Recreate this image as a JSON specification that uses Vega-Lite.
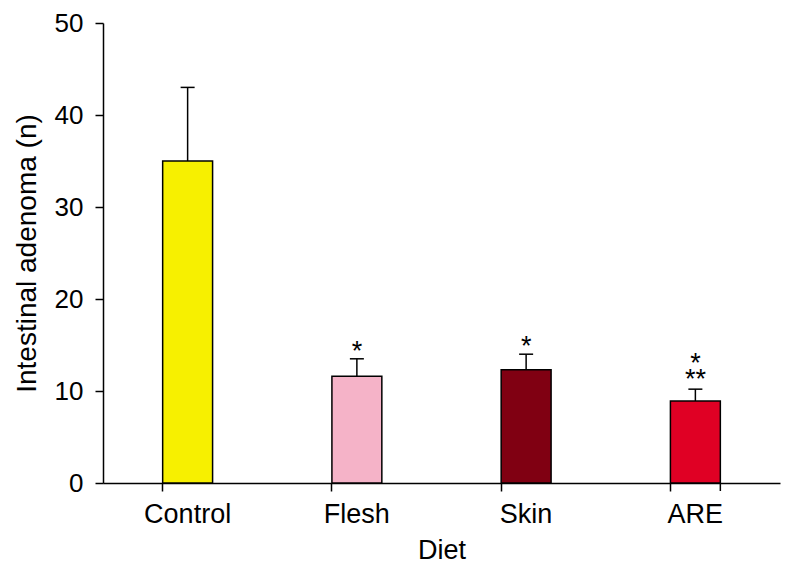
{
  "$schema": "https://vega.github.io/schema/vega-lite/v6.json",
  "autosize": "none",
  "width": 677,
  "height": 460,
  "padding": {"left": 103, "top": 23, "right": 18, "bottom": 97},
  "background": "white",
  "config": {
    "view": {"stroke": null},
    "font": "Liberation Sans",
    "axis": {"domainColor": "black", "tickColor": "black", "labelColor": "black", "titleColor": "black", "domainWidth": 1.5, "tickWidth": 1.5, "tickSize": 8, "grid": false, "labelFont": "Liberation Sans", "titleFont": "Liberation Sans", "titleFontWeight": "normal"}
  },
  "data": {
    "values": [
      {"Diet": "Control", "value": 35.0, "err": 43.0, "sig": "", "sig2": ""},
      {"Diet": "Flesh", "value": 11.6, "err": 13.5, "sig": "*", "sig2": ""},
      {"Diet": "Skin", "value": 12.3, "err": 14.0, "sig": "*", "sig2": ""},
      {"Diet": "ARE", "value": 8.9, "err": 10.2, "sig": "*", "sig2": "**"}
    ]
  },
  "encoding": {
    "x": {
      "field": "Diet", "type": "nominal", "sort": ["Control", "Flesh", "Skin", "ARE"],
      "scale": {"paddingInner": 0.705, "paddingOuter": 0.3525},
      "axis": {"title": "Diet", "labelAngle": 0, "labelFontSize": 27, "titleFontSize": 27, "labelPadding": 10, "titlePadding": 10, "bandPosition": 0}
    }
  },
  "layer": [
    {
      "mark": {"type": "rule", "color": "black", "strokeWidth": 1.5},
      "encoding": {
        "y": {"field": "value", "type": "quantitative"},
        "y2": {"field": "err"}
      }
    },
    {
      "mark": {"type": "tick", "orient": "horizontal", "size": 14, "thickness": 1.5, "color": "black", "opacity": 1},
      "encoding": {
        "y": {"field": "err", "type": "quantitative"}
      }
    },
    {
      "mark": {"type": "bar", "stroke": "black", "strokeWidth": 1.5},
      "encoding": {
        "y": {
          "field": "value", "type": "quantitative",
          "scale": {"domain": [0, 50], "nice": false},
          "axis": {"title": "Intestinal adenoma (n)", "values": [0, 10, 20, 30, 40, 50], "labelFontSize": 26, "titleFontSize": 28, "labelPadding": 12, "titlePadding": 13}
        },
        "color": {
          "field": "Diet", "type": "nominal", "legend": null,
          "scale": {"domain": ["Control", "Flesh", "Skin", "ARE"], "range": ["#f7f000", "#f5b3c8", "#800012", "#e00024"]}
        }
      }
    },
    {
      "transform": [{"filter": "datum.Diet !== 'ARE'"}],
      "mark": {"type": "text", "fontSize": 27, "baseline": "alphabetic", "color": "black", "yOffset": 1},
      "encoding": {
        "y": {"field": "err", "type": "quantitative"},
        "text": {"field": "sig"}
      }
    },
    {
      "transform": [{"filter": "datum.Diet === 'ARE'"}],
      "mark": {"type": "text", "fontSize": 27, "baseline": "alphabetic", "color": "black", "yOffset": -17},
      "encoding": {
        "y": {"field": "err", "type": "quantitative"},
        "text": {"field": "sig"}
      }
    },
    {
      "transform": [{"filter": "datum.Diet === 'ARE'"}],
      "mark": {"type": "text", "fontSize": 27, "baseline": "alphabetic", "color": "black", "yOffset": -1},
      "encoding": {
        "y": {"field": "err", "type": "quantitative"},
        "text": {"field": "sig2"}
      }
    },
    {
      "transform": [{"filter": "datum.Diet === 'ARE'"}],
      "mark": {"type": "rule", "color": "black", "strokeWidth": 1.5, "y2Offset": 8},
      "encoding": {
        "x": {"field": "Diet", "type": "nominal", "bandPosition": 1},
        "y": {"datum": 0},
        "y2": {"datum": 0}
      }
    }
  ]
}
